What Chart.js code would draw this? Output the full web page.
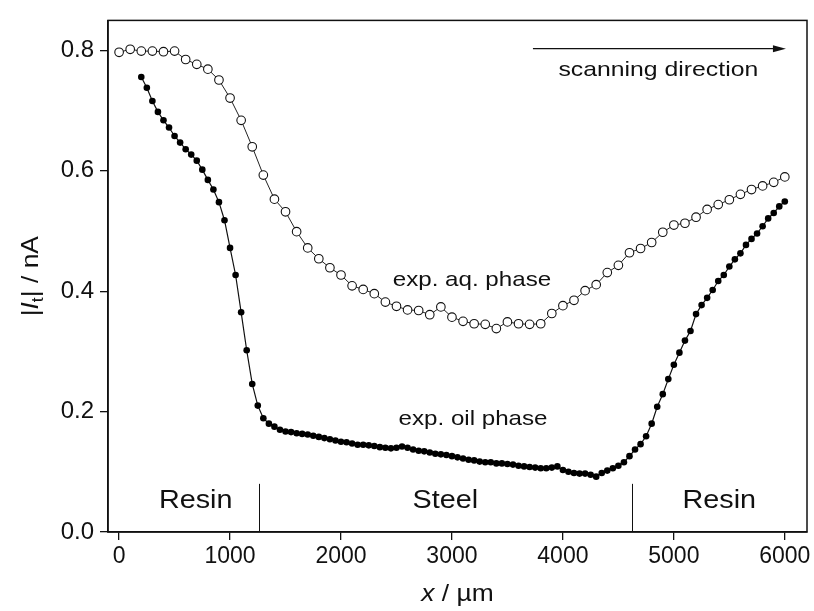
<!DOCTYPE html>
<html>
<head>
<meta charset="utf-8">
<script src="https://cdn.jsdelivr.net/npm/chart.js@4"></script>
<style>
  html, body { margin: 0; padding: 0; background: #fff; }
</style>
</head>
<body>
<canvas id="scanChart" width="814" height="611"></canvas>
<script>
// SECM line scan: tip current vs. position
const aqX = [
  0, 100, 200, 300, 400, 500, 600, 700, 800, 900,
  1000, 1100, 1200, 1300, 1400, 1500, 1600, 1700, 1800, 1900,
  2000, 2100, 2200, 2300, 2400, 2500, 2600, 2700, 2800, 2900,
  3000, 3100, 3200, 3300, 3400, 3500, 3600, 3700, 3800, 3900,
  4000, 4100, 4200, 4300, 4400, 4500, 4600, 4700, 4800, 4900,
  5000, 5100, 5200, 5300, 5400, 5500, 5600, 5700, 5800, 5900,
  6000
];
const aqY = [
  0.797, 0.802, 0.799, 0.799, 0.798, 0.799, 0.785, 0.777, 0.769, 0.751,
  0.721, 0.684, 0.640, 0.593, 0.553, 0.532, 0.499, 0.472, 0.454, 0.439,
  0.427, 0.409, 0.403, 0.396, 0.382, 0.375, 0.369, 0.368, 0.361, 0.374,
  0.357, 0.350, 0.346, 0.345, 0.338, 0.349, 0.346, 0.345, 0.346, 0.363,
  0.376, 0.385, 0.401, 0.411, 0.431, 0.443, 0.464, 0.471, 0.481, 0.498,
  0.510, 0.513, 0.523, 0.536, 0.544, 0.552, 0.561, 0.569, 0.575, 0.581,
  0.590
];

const oilX = [
  200, 250, 300, 350, 400, 450, 500, 550, 600, 650,
  700, 750, 800, 850, 900, 950, 1000, 1050, 1100, 1150,
  1200, 1250, 1300, 1350, 1400, 1450, 1500, 1550, 1600, 1650,
  1700, 1750, 1800, 1850, 1900, 1950, 2000, 2050, 2100, 2150,
  2200, 2250, 2300, 2350, 2400, 2450, 2500, 2550, 2600, 2650,
  2700, 2750, 2800, 2850, 2900, 2950, 3000, 3050, 3100, 3150,
  3200, 3250, 3300, 3350, 3400, 3450, 3500, 3550, 3600, 3650,
  3700, 3750, 3800, 3850, 3900, 3950, 4000, 4050, 4100, 4150,
  4200, 4250, 4300, 4350, 4400, 4450, 4500, 4550, 4600, 4650,
  4700, 4750, 4800, 4850, 4900, 4950, 5000, 5050, 5100, 5150,
  5200, 5250, 5300, 5350, 5400, 5450, 5500, 5550, 5600, 5650,
  5700, 5750, 5800, 5850, 5900, 5950, 6000
];
const oilY = [
  0.756, 0.738, 0.716, 0.698, 0.684, 0.672, 0.658, 0.647, 0.636, 0.627,
  0.617, 0.602, 0.585, 0.569, 0.548, 0.518, 0.472, 0.427, 0.365, 0.302,
  0.246, 0.210, 0.189, 0.180, 0.175, 0.170, 0.167, 0.166, 0.164, 0.163,
  0.162, 0.160, 0.158, 0.156, 0.154, 0.152, 0.150, 0.149, 0.147, 0.145,
  0.145, 0.144, 0.143, 0.141, 0.140, 0.139, 0.140, 0.142, 0.140, 0.137,
  0.135, 0.134, 0.132, 0.130, 0.129, 0.128, 0.126, 0.124, 0.122, 0.120,
  0.119, 0.117, 0.116, 0.116, 0.114, 0.114, 0.113, 0.112, 0.110, 0.109,
  0.108, 0.107, 0.106, 0.106, 0.107, 0.109, 0.103, 0.100, 0.098, 0.097,
  0.097, 0.095, 0.092, 0.098, 0.102, 0.106, 0.110, 0.116, 0.126, 0.137,
  0.146, 0.159, 0.180, 0.208, 0.229, 0.254, 0.278, 0.298, 0.318, 0.334,
  0.362, 0.377, 0.389, 0.402, 0.417, 0.427, 0.441, 0.453, 0.463, 0.477,
  0.487, 0.496, 0.508, 0.521, 0.530, 0.541, 0.549
];

const xTicks = [0, 1000, 2000, 3000, 4000, 5000, 6000];
const yTicks = [0.0, 0.2, 0.4, 0.6, 0.8];

// material boundaries along the scan (µm)
const boundaries = [1260, 4620];
const regionNames = ["Resin", "Steel", "Resin"];

const FONT = "'Liberation Sans', Arial, Helvetica, sans-serif";
const INK = "#111";

// text a bit wider than the font, like the original figure
function wideText(ctx, txt, x, y, stretch) {
  ctx.save();
  ctx.translate(x, y);
  ctx.scale(stretch, 1);
  ctx.fillText(txt, 0, 0);
  ctx.restore();
}

const overlay = {
  id: "overlay",
  afterDraw(chart) {
    const { ctx, chartArea: a, scales } = chart;
    const xs = scales.x, ys = scales.y;
    ctx.save();

    // frame (top + right)
    ctx.strokeStyle = INK;
    ctx.lineWidth = 1.5;
    ctx.strokeRect(a.left, a.top, a.right - a.left, a.bottom - a.top);

    // boundary marks
    ctx.lineWidth = 1;
    boundaries.forEach(b => {
      const px = Math.round(xs.getPixelForValue(b)) + 0.5;
      ctx.beginPath();
      ctx.moveTo(px, ys.getPixelForValue(0));
      ctx.lineTo(px, ys.getPixelForValue(0.08));
      ctx.stroke();
    });

    ctx.fillStyle = INK;
    ctx.textAlign = "center";
    ctx.textBaseline = "middle";
    ctx.font = "25px " + FONT;
    const centers = [690, (boundaries[0] + boundaries[1]) / 2, 5410];
    regionNames.forEach((n, i) => {
      wideText(ctx, n, xs.getPixelForValue(centers[i]), ys.getPixelForValue(0.052), 1.15);
    });

    // scanning direction arrow
    const ay = ys.getPixelForValue(0.803);
    const ax0 = xs.getPixelForValue(3730), ax1 = xs.getPixelForValue(6010);
    ctx.lineWidth = 1.2;
    ctx.beginPath();
    ctx.moveTo(ax0, ay);
    ctx.lineTo(ax1 - 8, ay);
    ctx.stroke();
    ctx.beginPath();
    ctx.moveTo(ax1, ay);
    ctx.lineTo(ax1 - 13, ay - 3.5);
    ctx.lineTo(ax1 - 13, ay + 3.5);
    ctx.closePath();
    ctx.fill();

    ctx.font = "21px " + FONT;
    wideText(ctx, "scanning direction", xs.getPixelForValue(4860), ys.getPixelForValue(0.767), 1.18);
    wideText(ctx, "exp. aq. phase", xs.getPixelForValue(3180), ys.getPixelForValue(0.418), 1.15);
    wideText(ctx, "exp. oil phase", xs.getPixelForValue(3190), ys.getPixelForValue(0.188), 1.15);

    // x axis title: x / µm
    ctx.textAlign = "left";
    ctx.textBaseline = "alphabetic";
    const xt1 = "x", xt2 = " / µm";
    ctx.font = "italic 24px " + FONT;
    const w1 = ctx.measureText(xt1).width;
    ctx.font = "24px " + FONT;
    const w2 = ctx.measureText(xt2).width;
    const st = 1.1;
    let sx = (a.left + a.right) / 2 - st * (w1 + w2) / 2;
    const by = 601;
    ctx.font = "italic 24px " + FONT;
    wideText(ctx, xt1, sx, by, st);
    ctx.font = "24px " + FONT;
    wideText(ctx, xt2, sx + st * w1, by, st);

    // y axis title: |I_t| / nA (rotated)
    ctx.translate(38, (a.top + a.bottom) / 2);
    ctx.rotate(-Math.PI / 2);
    const parts = [
      { t: "|", f: "24px " + FONT, dy: 0 },
      { t: "I", f: "italic 24px " + FONT, dy: 0 },
      { t: "t", f: "16px " + FONT, dy: 5 },
      { t: "| / nA", f: "24px " + FONT, dy: 0 }
    ];
    let total = 0;
    parts.forEach(p => { ctx.font = p.f; p.w = ctx.measureText(p.t).width * 1.1; total += p.w; });
    let cx = -total / 2;
    parts.forEach(p => {
      ctx.font = p.f;
      wideText(ctx, p.t, cx, p.dy, 1.1);
      cx += p.w;
    });

    ctx.restore();
  }
};

const ctx = document.getElementById("scanChart").getContext("2d");
new Chart(ctx, {
  type: "scatter",
  data: {
    datasets: [
      {
        label: "exp. aq. phase",
        data: aqX.map((x, i) => ({ x: x, y: aqY[i] })),
        showLine: true,
        borderColor: "#222",
        borderWidth: 1,
        pointRadius: 4.3,
        pointBackgroundColor: "#fff",
        pointBorderColor: "#111",
        pointBorderWidth: 1.1
      },
      {
        label: "exp. oil phase",
        data: oilX.map((x, i) => ({ x: x, y: oilY[i] })),
        showLine: true,
        borderColor: "#111",
        borderWidth: 1.2,
        pointRadius: 3.3,
        pointBackgroundColor: "#000",
        pointBorderColor: "#000",
        pointBorderWidth: 0
      }
    ]
  },
  options: {
    responsive: false,
    devicePixelRatio: 1,
    animation: false,
    layout: { padding: { top: 14, right: 7, left: 0, bottom: 0 } },
    plugins: {
      legend: { display: false },
      tooltip: { enabled: false }
    },
    scales: {
      x: {
        type: "linear",
        min: -100,
        max: 6200,
        afterBuildTicks: s => { s.ticks = xTicks.map(v => ({ value: v })); },
        afterFit: s => { s.height = 79; },
        ticks: {
          color: INK,
          font: { family: FONT, size: 23 },
          padding: 3,
          maxRotation: 0,
          callback: v => String(v)
        },
        grid: { drawOnChartArea: false, drawTicks: true, tickLength: 8, color: INK, lineWidth: 1.3 },
        border: { display: true, color: INK, width: 1.5 }
      },
      y: {
        min: 0,
        max: 0.85,
        afterBuildTicks: s => { s.ticks = yTicks.map(v => ({ value: v })); },
        afterFit: s => { s.width = 108; },
        ticks: {
          color: INK,
          font: { family: FONT, size: 24 },
          padding: 6,
          callback: v => v.toFixed(1)
        },
        grid: { drawOnChartArea: false, drawTicks: true, tickLength: 8, color: INK, lineWidth: 1.3 },
        border: { display: true, color: INK, width: 1.5 }
      }
    }
  },
  plugins: [overlay]
});
</script>
</body>
</html>
